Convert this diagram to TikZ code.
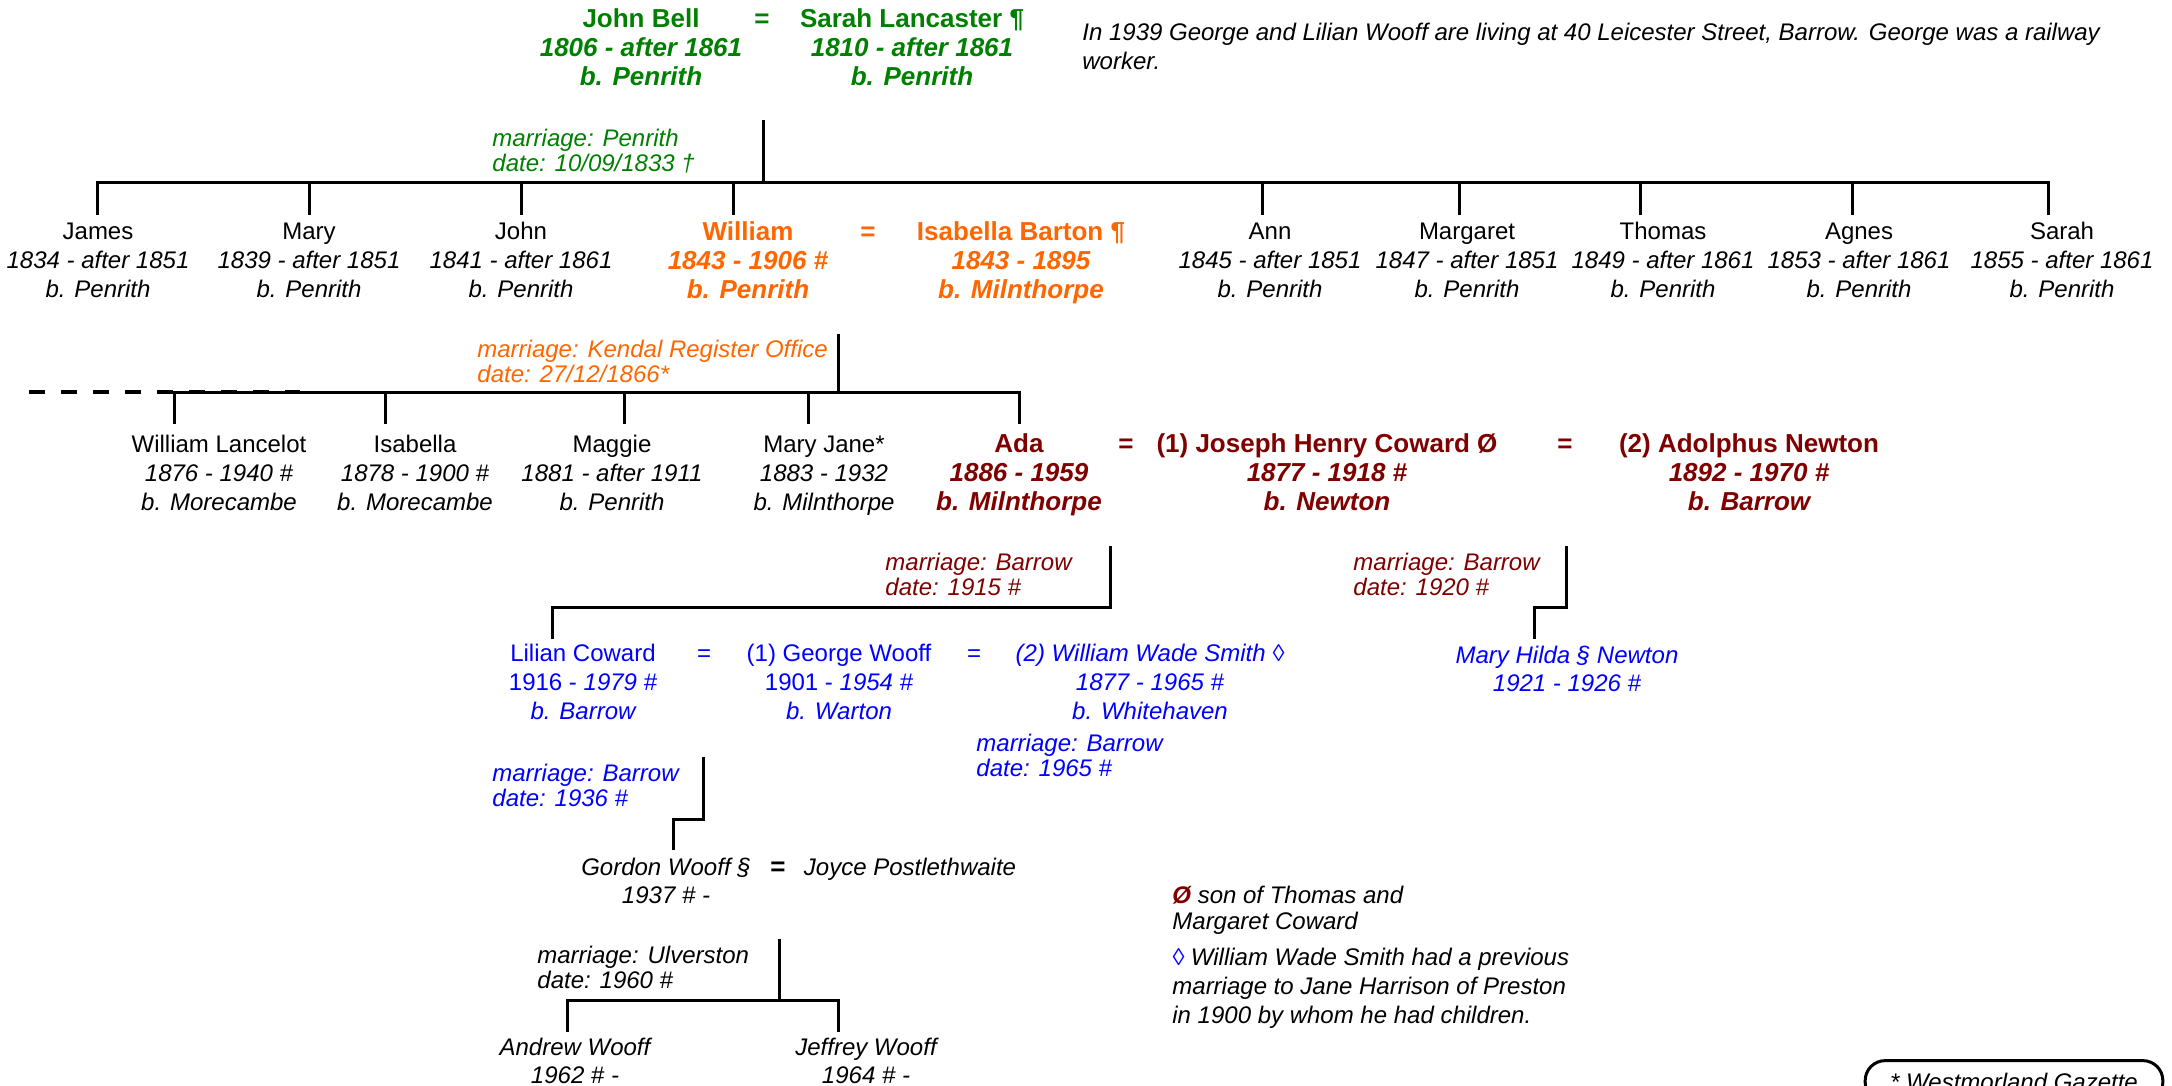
\documentclass[tikz,border=0pt]{standalone}
\usepackage{fontspec}
\setmainfont{Liberation Sans}
\definecolor{grn}{RGB}{0,128,0}
\definecolor{org}{RGB}{255,102,0}
\definecolor{dred}{RGB}{128,0,0}
\definecolor{blu}{RGB}{0,0,255}
\tikzset{
 reg/.style={font=\fontsize{12}{14.5}\selectfont, inner sep=0pt, anchor=base},
 bld/.style={font=\fontsize{13}{15}\selectfont\bfseries, inner sep=0pt, anchor=base},
 ital/.style={font=\fontsize{12}{14.5}\selectfont\itshape, inner sep=0pt, anchor=base},
 lab/.style={font=\fontsize{12}{14.5}\selectfont\itshape, inner sep=0pt, anchor=base west},
 gr/.style={text=grn}, orr/.style={text=org}, dr/.style={text=dred}, bl/.style={text=blu},
 conn/.style={line width=1.5pt, line join=miter, line cap=rect},
}
\newcommand\pthree[7]{%
  \node[#2] (#1) at (#3,#4) {#5};
  \node[#2] (#1d) at (#3,{#4+29}) {#6};
  \node[#2] (#1b) at (#3,{#4+58}) {#7};}
\newcommand\ptwo[6]{%
  \node[#2] (#1) at (#3,#4) {#5};
  \node[#2] (#1d) at (#3,{#4+28}) {#6};}
\newcommand\marlab[6]{%
  \node[lab,#2] (#1) at (#3,#4) {#5};
  \node[lab,#2] (#1x) at (#3,{#4+25}) {#6};}
\begin{document}
\begin{tikzpicture}[x=0.5pt,y=-0.5pt]
\clip (0,0) rectangle (2172,1086);
\fill[white] (0,0) rectangle (2172,1086);

% ---------- generation 0 ----------
\pthree{jb}{bld,gr}{641}{28}{John Bell}{\itshape 1806 - after 1861}{\itshape b. Penrith}
\node[bld,gr] (eqa) at (762,28) {=};
\pthree{sl}{bld,gr}{912}{28}{Sarah Lancaster ¶}{\itshape 1810 - after 1861}{\itshape b. Penrith}
\node[lab] (topnote) at (1082,40.5) {In 1939 George and Lilian Wooff are living at 40 Leicester Street, Barrow. George was a railway};
\node[lab] (topnoteb) at (1082,69.5) {worker.};
\marlab{mA}{gr}{492}{146.5}{marriage: Penrith}{date: 10/09/1833 †}

\coordinate (jA) at (763,122);
\coordinate (jB) at (763,182);
\coordinate (barAL) at (97,182);
\coordinate (barAR) at (2048,182);
\draw[conn] (jA) -- (jB);
\draw[conn] (barAL) -- (barAR);
\foreach \n/\x in {James/97,Mary/309,John/521,William/733,Ann/1262,Margaret/1459,Thomas/1640,Agnes/1852,Sarah/2048}{
  \coordinate (t\n) at (\x,213);
  \draw[conn] (t\n |- barAL) -- (t\n);
}

% ---------- generation 1 ----------
\pthree{james}{reg}{98}{239.5}{James}{\itshape 1834 - after 1851}{\itshape b. Penrith}
\pthree{mary}{reg}{309}{239.5}{Mary}{\itshape 1839 - after 1851}{\itshape b. Penrith}
\pthree{john}{reg}{521}{239.5}{John}{\itshape 1841 - after 1861}{\itshape b. Penrith}
\pthree{will}{bld,orr}{748}{240}{William}{\itshape 1843 - 1906 \#}{\itshape b. Penrith}
\node[bld,orr] (eqb) at (868,240) {=};
\pthree{isab}{bld,orr}{1021}{240}{Isabella Barton ¶}{\itshape 1843 - 1895}{\itshape b. Milnthorpe}
\pthree{ann}{reg}{1270}{239.5}{Ann}{\itshape 1845 - after 1851}{\itshape b. Penrith}
\pthree{marg}{reg}{1467}{239.5}{Margaret}{\itshape 1847 - after 1851}{\itshape b. Penrith}
\pthree{thom}{reg}{1663}{239.5}{Thomas}{\itshape 1849 - after 1861}{\itshape b. Penrith}
\pthree{agn}{reg}{1859}{239.5}{Agnes}{\itshape 1853 - after 1861}{\itshape b. Penrith}
\pthree{sar}{reg}{2062}{239.5}{Sarah}{\itshape 1855 - after 1861}{\itshape b. Penrith}

\marlab{mB}{orr}{477}{357.5}{marriage: Kendal Register Office}{date: 27/12/1866*}
\coordinate (jC) at (838,335);
\coordinate (jD) at (838,392);
\coordinate (barBL) at (174,392);
\coordinate (barBR) at (1019,392);
\coordinate (dashL) at (29,392);
\coordinate (dashR) at (300,392);
\draw[conn] (jC) -- (jD);
\draw[conn] (barBL) -- (barBR);
\draw[line width=1.6pt, dash pattern=on 8pt off 8pt] (dashL) -- (dashR);
\foreach \n/\x in {WL/174,Is/385,Mg/624,MJ/808,Ada/1019}{
  \coordinate (u\n) at (\x,422);
  \draw[conn] (u\n |- barBL) -- (u\n);
}

% ---------- generation 2 ----------
\pthree{wl}{reg}{219}{452}{William Lancelot}{\itshape 1876 - 1940 \#}{\itshape b. Morecambe}
\pthree{isb}{reg}{415}{452}{Isabella}{\itshape 1878 - 1900 \#}{\itshape b. Morecambe}
\pthree{mg}{reg}{612}{452}{Maggie}{\itshape 1881 - after 1911}{\itshape b. Penrith}
\pthree{mj}{reg}{824}{452}{Mary Jane*}{\itshape 1883 - 1932}{\itshape b. Milnthorpe}
\pthree{ada}{bld,dr}{1019}{452}{Ada}{\itshape 1886 - 1959}{\itshape b. Milnthorpe}
\node[bld,dr] (eqc) at (1126,452) {=};
\pthree{jhc}{bld,dr}{1327}{452}{(1) Joseph Henry Coward Ø}{\itshape 1877 - 1918 \#}{\itshape b. Newton}
\node[bld,dr] (eqd) at (1565,452) {=};
\pthree{adn}{bld,dr}{1749}{452}{(2) Adolphus Newton}{\itshape 1892 - 1970 \#}{\itshape b. Barrow}

\marlab{mC}{dr}{885}{570.5}{marriage: Barrow}{date: 1915 \#}
\marlab{mD}{dr}{1353}{570.5}{marriage: Barrow}{date: 1920 \#}
\coordinate (kA) at (1110,547);
\coordinate (kB) at (1110,607);
\coordinate (kC) at (552,607);
\coordinate (kD) at (552,637);
\draw[conn] (kA) -- (kB) -- (kC) -- (kD);
\coordinate (hA) at (1566,547);
\coordinate (hB) at (1566,607);
\coordinate (hC) at (1534,607);
\coordinate (hD) at (1534,637);
\draw[conn] (hA) -- (hB) -- (hC) -- (hD);

% ---------- generation 3 ----------
\pthree{lc}{reg,bl}{583}{661.5}{Lilian Coward}{1916 - {\itshape 1979 \#}}{\itshape b. Barrow}
\node[reg,bl] (eqe) at (704,661.5) {=};
\pthree{gw}{reg,bl}{839}{661.5}{(1) George Wooff}{1901 - {\itshape 1954 \#}}{\itshape b. Warton}
\node[reg,bl] (eqf) at (974,661.5) {=};
\pthree{wws}{ital,bl}{1150}{661.5}{(2) William Wade Smith ◊}{1877 - 1965 \#}{b. Whitehaven}
\ptwo{mh}{ital,bl}{1567}{663}{Mary Hilda § Newton}{1921 - 1926 \#}

\marlab{mE}{bl}{976}{751.5}{marriage: Barrow}{date: 1965 \#}
\marlab{mF}{bl}{492}{781.5}{marriage: Barrow}{date: 1936 \#}
\coordinate (gA) at (703,758);
\coordinate (gB) at (703,819);
\coordinate (gC) at (673,819);
\coordinate (gD) at (673,848);
\draw[conn] (gA) -- (gB) -- (gC) -- (gD);

% ---------- generation 4 ----------
\ptwo{gwf}{ital}{666}{875.5}{Gordon Wooff §}{1937 \# -}
\node[bld] (eqg) at (778,875.5) {=};
\node[ital] (joyce) at (910,875.5) {Joyce Postlethwaite};
\marlab{mG}{}{537}{963.5}{marriage: Ulverston}{date: 1960 \#}
\coordinate (fA) at (779,940);
\coordinate (fB) at (779,1000);
\coordinate (barCL) at (567,1000);
\coordinate (barCR) at (838,1000);
\coordinate (fL) at (567,1030);
\coordinate (fR) at (838,1030);
\draw[conn] (fA) -- (fB);
\draw[conn] (barCL) -- (barCR);
\draw[conn] (barCL) -- (fL);
\draw[conn] (barCR) -- (fR);
\ptwo{aw}{ital}{575}{1055.5}{Andrew Wooff}{1962 \# -}
\ptwo{jw}{ital}{866}{1055.5}{Jeffrey Wooff}{1964 \# -}

% ---------- notes ----------
\node[lab] (noteA) at (1172,903.5) {{\color{dred}\bfseries Ø} son of Thomas and};
\node[lab] (noteAb) at (1172,929.5) {Margaret Coward};
\node[lab] (noteB) at (1172,965.5) {{\color{blu}◊} William Wade Smith had a previous};
\node[lab] (noteBb) at (1172,994.5) {marriage to Jane Harrison of Preston};
\node[lab] (noteBc) at (1172,1023.5) {in 1900 by whom he had children.};

\node[draw, line width=1.5pt, rounded corners=10pt, ital, inner xsep=12.5pt, inner ysep=6pt] (gaz) at (2014,1090) {* Westmorland Gazette};
\end{tikzpicture}
\end{document}
